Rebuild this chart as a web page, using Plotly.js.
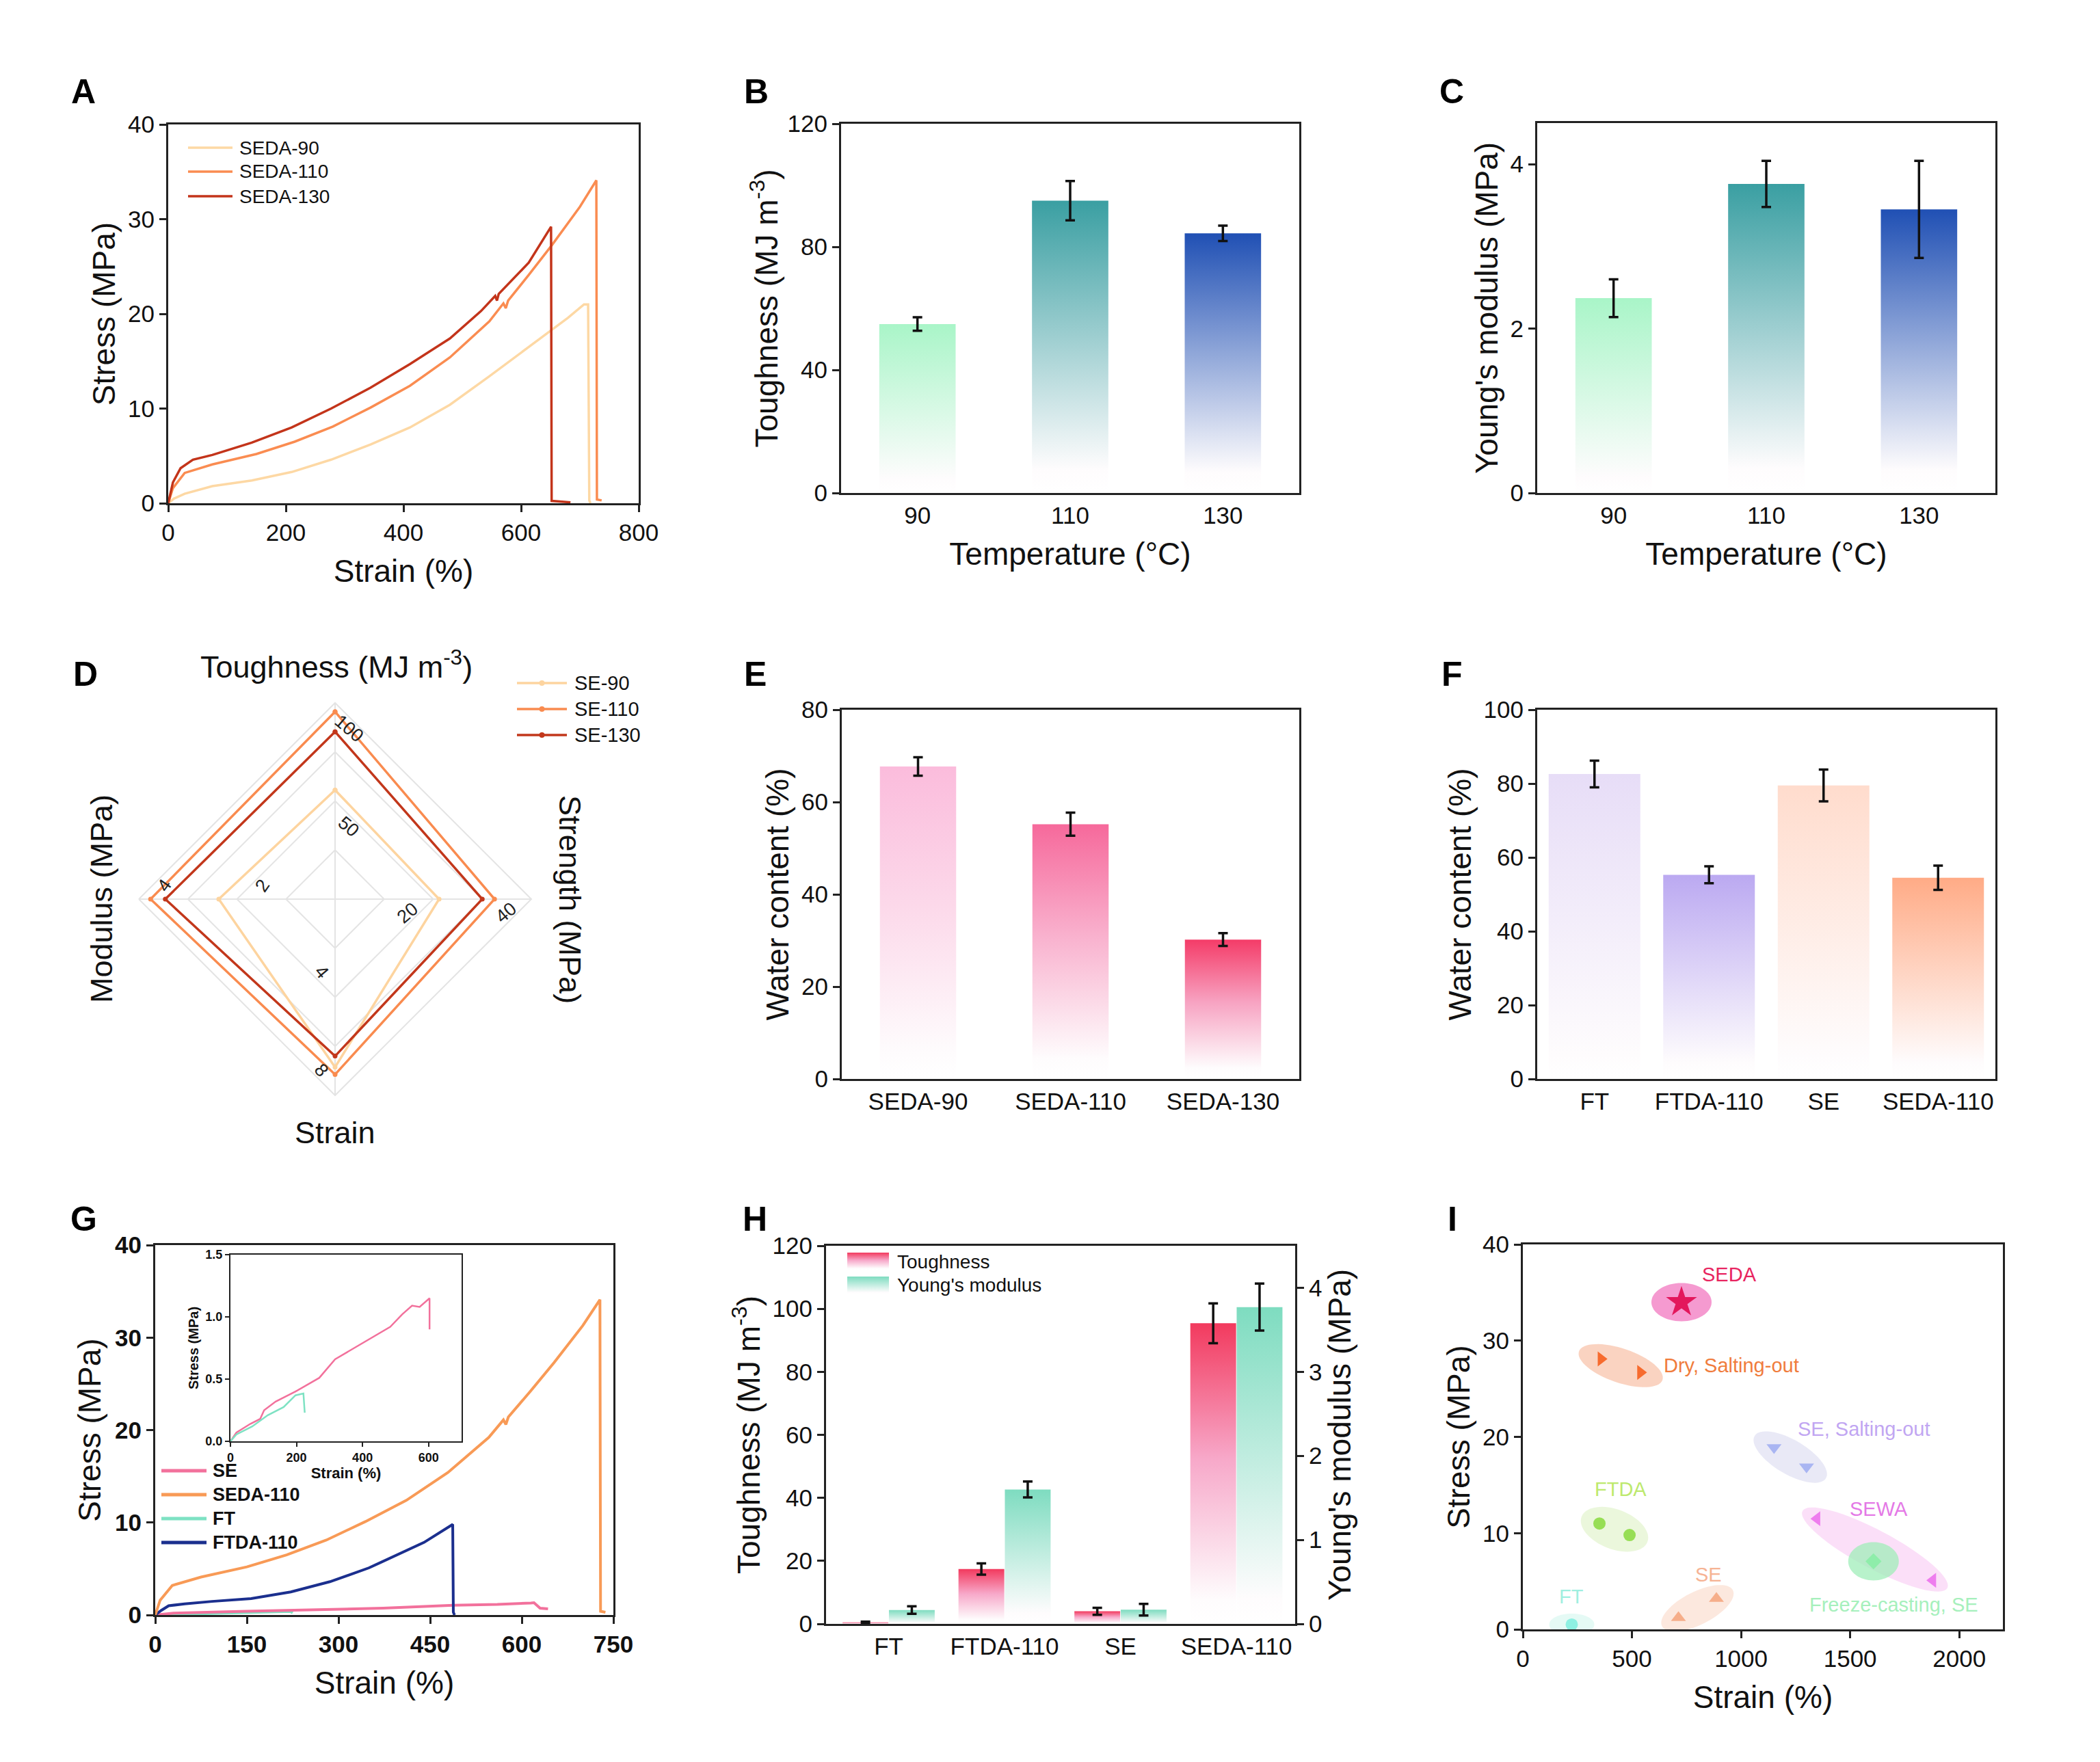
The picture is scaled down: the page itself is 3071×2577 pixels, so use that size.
<!DOCTYPE html>
<html>
<head>
<meta charset="utf-8">
<script src="https://cdn.plot.ly/plotly-3.0.1.min.js"></script>
<style>html,body{margin:0;padding:0;background:#fff}#fig{width:3071px;height:2577px}</style>
</head>
<body>
<div id="fig"></div>
<script>
const W = 3071, H = 2577;
const FONT = 'Liberation Sans, Arial, sans-serif';

/* ---------- data ---------- */
// A: stress-strain curves, SEDA at three temperatures
const seda90Strain = [0, 10, 28, 75, 142, 210, 277, 344, 411, 479, 546, 613, 680, 707, 714, 716, 718];
const seda90Stress = [0, 0.5, 1.0, 1.8, 2.4, 3.3, 4.6, 6.2, 8.0, 10.4, 13.4, 16.5, 19.6, 21.0, 21.0, 0.3, 0];
const seda110Strain = [0, 8, 28, 75, 150, 215, 280, 344, 411, 479, 546, 570, 574, 578, 613, 653, 700, 728, 729, 737];
const seda110Stress = [0, 1.6, 3.2, 4.1, 5.2, 6.5, 8.1, 10.1, 12.4, 15.4, 19.2, 21.1, 20.6, 21.4, 24.1, 27.3, 31.3, 34.1, 0.4, 0.3];
const seda130Strain = [0, 8, 21, 42, 75, 142, 210, 277, 344, 411, 479, 532, 556, 559, 562, 613, 651, 652, 684];
const seda130Stress = [0, 2.2, 3.7, 4.6, 5.1, 6.4, 8.0, 10.0, 12.2, 14.7, 17.4, 20.3, 21.9, 21.4, 22.1, 25.4, 29.2, 0.25, 0.1];

// B, C: toughness and modulus vs drying temperature
const temps = ['90', '110', '130'];
const toughByTemp = [54.9, 95.0, 84.4];
const toughByTempErr = [2.2, 6.4, 2.5];
const modByTemp = [2.37, 3.76, 3.45];
const modByTempErr = [0.23, 0.28, 0.59];

// D: radar (per-axis maxima set the outer ring)
const radarAxes = ['Toughness', 'Strength', 'Strain', 'Modulus'];
const radarMax = [100, 40, 8, 4];
const radarTicks = [[50, 100], [20, 40], [4, 8], [2, 4]];
const se90 = [55.6, 21.2, 6.85, 2.37];
const se110 = [95.5, 32.5, 7.15, 3.76];
const se130 = [85.3, 30.0, 6.4, 3.46];

// E: water content vs temperature
const sedaNames = ['SEDA-90', 'SEDA-110', 'SEDA-130'];
const waterSeda = [67.7, 55.2, 30.2];
const waterSedaErr = [2.0, 2.5, 1.4];

// F: water content of four gels
const gelNames = ['FT', 'FTDA-110', 'SE', 'SEDA-110'];
const waterGel = [82.6, 55.3, 79.5, 54.5];
const waterGelErr = [3.6, 2.3, 4.3, 3.3];

// G: stress-strain of four gels (SEDA-110 uses the curve of A)
const ftdaStrain = [0, 10, 22, 48, 93, 157, 222, 286, 350, 414, 440, 487, 488, 490];
const ftdaStress = [0, 0.5, 1.0, 1.2, 1.47, 1.77, 2.5, 3.6, 5.1, 7.1, 7.85, 9.8, 0.3, 0];
const seMainStrain = [0, 30, 150, 300, 373, 488, 560, 615, 620, 630, 643];
const seMainStress = [0, 0.2, 0.4, 0.62, 0.74, 1.06, 1.15, 1.3, 1.33, 0.74, 0.67];
// G inset: the two soft gels
const seStrain = [0, 18, 60, 90, 102, 137, 197, 269, 317, 388, 484, 520, 550, 573, 597, 603, 603];
const seStress = [0, 0.07, 0.14, 0.18, 0.25, 0.32, 0.40, 0.51, 0.66, 0.77, 0.92, 1.02, 1.09, 1.08, 1.14, 1.15, 0.90];
const ftStrain = [0, 18, 66, 113, 161, 197, 221, 225];
const ftStress = [0, 0.055, 0.12, 0.21, 0.275, 0.37, 0.385, 0.23];

// H: toughness and modulus of four gels
const hTough = [0.5, 17.4, 4.0, 95.4];
const hToughErr = [0.2, 1.8, 1.1, 6.3];
const hMod = [0.165, 1.60, 0.169, 3.77];
const hModErr = [0.045, 0.095, 0.07, 0.28];

// I: comparison with literature
const sedaPtStrain = [727], sedaPtStress = [34.0];
const dryStrain = [358, 539], dryStress = [28.1, 26.7];
const seSaltStrain = [1151, 1300], seSaltStress = [18.9, 16.9];
const ftdaPtStrain = [351, 489], ftdaPtStress = [11.0, 9.8];
const sewaStrain = [1348, 1879], sewaStress = [11.5, 5.1];
const freezeStrain = [1607], freezeStress = [7.07];
const sePtStrain = [713, 887], sePtStress = [1.2, 3.2];
const ftPtStrain = [224], ftPtStress = [0.5];

/* ---------- helpers ---------- */
const pxX = (a, b) => [a / W, b / W];
const pxY = (top, bottom) => [1 - bottom / H, 1 - top / H];
const mean = (a) => a.reduce((s, v) => s + v, 0) / a.length;

function axis(dom, range, o) {
  return Object.assign({
    domain: dom, range: range, showline: true, mirror: true, linecolor: '#222', linewidth: 3,
    ticks: 'outside', ticklen: 10, tickwidth: 3, tickcolor: '#222', showgrid: false, zeroline: false,
    tickfont: { family: FONT, size: 35, color: '#111' }, fixedrange: true,
  }, o);
}
function ttl(text, standoff, extra) {
  return Object.assign({ text: text, standoff: standoff, font: { family: FONT, size: 46, color: '#111' } }, extra);
}
function fade(top, mid) {
  return mid
    ? [[0, '#ffffff'], [0.08, '#fefcfd'], [0.55, mid], [1, top]]
    : [[0, '#ffffff'], [0.08, '#fefcfd'], [1, top]];
}
// a bar as a filled rectangle so it can carry a vertical gradient
function gradBar(xc, v, w, colors, xa, ya, y0) {
  const x0 = xc - w / 2, x1 = xc + w / 2, b = y0 || 0;
  return {
    type: 'scatter', x: [x0, x1, x1, x0, x0], y: [b, b, v, v, b], xaxis: xa, yaxis: ya,
    mode: 'none', fill: 'toself',
    fillgradient: { type: 'vertical', start: b, stop: v, colorscale: colors },
    hoverinfo: 'skip', showlegend: false,
  };
}
function errTrace(xs, ys, es, xa, ya) {
  return {
    type: 'scatter', x: xs, y: ys, xaxis: xa, yaxis: ya, mode: 'markers',
    marker: { size: 1, color: 'rgba(0,0,0,0)' },
    error_y: { type: 'data', array: es, visible: true, color: '#111', thickness: 3.5, width: 7 },
    hoverinfo: 'skip', showlegend: false,
  };
}
function curve(x, y, color, width, xa, ya) {
  return { type: 'scatter', mode: 'lines', x: x, y: y, xaxis: xa, yaxis: ya,
    line: { color: color, width: width }, hoverinfo: 'skip', showlegend: false };
}
// paper-positioned text, pixel coordinates from the top-left corner
function note(text, x, y, font, extra) {
  return Object.assign({ xref: 'paper', yref: 'paper', x: x / W, y: 1 - y / H, xanchor: 'center', yanchor: 'middle',
    text: text, showarrow: false, font: font }, extra);
}

const data = [];
const shapes = [];
const annotations = [];

/* ---------- A ---------- */
const colA = ['#fdd8a4', '#fa8c51', '#c3341a'];
data.push(curve(seda90Strain, seda90Stress, colA[0], 3.5, 'x', 'y'));
data.push(curve(seda110Strain, seda110Stress, colA[1], 3.5, 'x', 'y'));
data.push(curve(seda130Strain, seda130Stress, colA[2], 3.5, 'x', 'y'));

/* ---------- B, C ---------- */
const colTemp = ['#a9f5c8', '#3a9fa2', '#2050b4'];
temps.forEach((t, i) => {
  data.push(gradBar(i, toughByTemp[i], 0.5, fade(colTemp[i]), 'x2', 'y2'));
  data.push(gradBar(i, modByTemp[i], 0.5, fade(colTemp[i]), 'x3', 'y3'));
});
data.push(errTrace([0, 1, 2], toughByTemp, toughByTempErr, 'x2', 'y2'));
data.push(errTrace([0, 1, 2], modByTemp, modByTempErr, 'x3', 'y3'));

/* ---------- D radar ---------- */
const colD = ['#fdd49f', '#f98b4f', '#c2371b'];
[se90, se110, se130].forEach((vals, k) => {
  const r = vals.map((v, j) => v / radarMax[j]);
  data.push({
    type: 'scatterpolar', r: r.concat([r[0]]), theta: radarAxes.concat([radarAxes[0]]),
    mode: 'lines+markers', line: { color: colD[k], width: 3.5 }, marker: { size: 7, color: colD[k] },
    hoverinfo: 'skip', showlegend: false,
  });
});

/* ---------- E, F ---------- */
const colE = [['#fbbcdc', '#fcd9ea'], ['#f6699b', '#f9b3cf'], ['#f43c68', '#f7a3c2']];
sedaNames.forEach((n, i) => data.push(gradBar(i, waterSeda[i], 0.5, fade(colE[i][0], colE[i][1]), 'x4', 'y4')));
data.push(errTrace([0, 1, 2], waterSeda, waterSedaErr, 'x4', 'y4'));
const colF = ['#e7ddf7', '#bba9f1', '#ffdccd', '#ffab86'];
gelNames.forEach((n, i) => data.push(gradBar(i, waterGel[i], 0.8, fade(colF[i]), 'x5', 'y5')));
data.push(errTrace([0, 1, 2, 3], waterGel, waterGelErr, 'x5', 'y5'));

/* ---------- G ---------- */
const colG = { SE: '#f2719c', SEDA: '#f89a56', FT: '#7ee2c3', FTDA: '#1b2f8e' };
data.push(curve(ftStrain, ftStress, colG.FT, 4, 'x6', 'y6'));
data.push(curve(seMainStrain, seMainStress, colG.SE, 4, 'x6', 'y6'));
data.push(curve(ftdaStrain, ftdaStress, colG.FTDA, 4, 'x6', 'y6'));
data.push(curve(seda110Strain, seda110Stress, colG.SEDA, 4, 'x6', 'y6'));
data.push(curve(seStrain, seStress, colG.SE, 2.5, 'x7', 'y7'));
data.push(curve(ftStrain, ftStress, colG.FT, 2.5, 'x7', 'y7'));

/* ---------- H ---------- */
const colHT = fade('#f23a5e', '#f7a8c9');
const colHM = fade('#7edcc0');
gelNames.forEach((n, i) => data.push(gradBar(i - 0.2, hTough[i], 0.395, colHT, 'x8', 'y8')));
gelNames.forEach((n, i) => data.push(gradBar(i + 0.2, hMod[i], 0.395, colHM, 'x8', 'y9')));
data.push(errTrace(gelNames.map((n, i) => i - 0.2), hTough, hToughErr, 'x8', 'y8'));
data.push(errTrace(gelNames.map((n, i) => i + 0.2), hMod, hModErr, 'x8', 'y9'));
// legend swatches for H live on a small axis of their own (units: px)
data.push(gradBar(0.5, 60, 1, colHT, 'x11', 'y11', 35));
data.push(gradBar(0.5, 25, 1, colHM, 'x11', 'y11', 0));
const legFont = { family: FONT, size: 28, color: '#111' };
annotations.push(note('Toughness', 1310, 1845, legFont, { xanchor: 'left' }));
annotations.push(note("Young's modulus", 1310, 1880, legFont, { xanchor: 'left' }));

/* ---------- I ---------- */
const iGroups = [
  { name: 'SEDA', x: sedaPtStrain, y: sedaPtStress, symbol: 'star', size: 34, color: '#e3175c',
    halo: 'rgba(242,120,192,0.75)', rx: 44, ry: 28, label: '#e8245f', dx: 70, dy: 40 },
  { name: 'Dry, Salting-out', x: dryStrain, y: dryStress, symbol: 'triangle-right', size: 19, color: '#f76b2e',
    halo: 'rgba(249,200,178,0.8)', pad: 34, minor: 25, label: '#f07c3c', dx: 162, dy: 0 },
  { name: 'SE, Salting-out', x: seSaltStrain, y: seSaltStress, symbol: 'triangle-down', size: 19, color: '#a9b5f2',
    halo: 'rgba(228,228,244,0.8)', pad: 33, minor: 25, label: '#c1a6f2', dx: 107, dy: 41 },
  { name: 'FTDA', x: ftdaPtStrain, y: ftdaPtStress, symbol: 'circle', size: 18, color: '#97de55',
    halo: 'rgba(233,246,216,0.9)', pad: 28, minor: 29, label: '#bde96e', dx: 9, dy: 59 },
  { name: 'SEWA', x: sewaStrain, y: sewaStress, symbol: 'triangle-left', size: 19, color: '#ee7dee',
    halo: 'rgba(249,212,246,0.75)', pad: 24, minor: 28, label: '#e479e6', dx: 6, dy: 59 },
  { name: 'Freeze-casting, SE', x: freezeStrain, y: freezeStress, symbol: 'diamond', size: 18, color: '#8eedaa',
    halo: 'rgba(160,238,185,0.75)', rx: 37, ry: 28, label: '#a6f0bc', dx: 30, dy: -64 },
  { name: 'SE', x: sePtStrain, y: sePtStress, symbol: 'triangle-up', size: 19, color: '#f6ae8a',
    halo: 'rgba(252,230,218,0.9)', pad: 27, minor: 24, label: '#f6b394', dx: 16, dy: 49 },
  { name: 'FT', x: ftPtStrain, y: ftPtStress, symbol: 'circle', size: 18, color: '#8ef0e2',
    halo: 'rgba(226,250,244,0.9)', rx: 33, ry: 16, label: '#9fefe0', dx: 0, dy: 41 },
];
const iScale = { x: (2929 - 2227) / 2200, y: (2383 - 1820) / 40 };
function ellipsePath(g) {
  const cx = mean(g.x), cy = mean(g.y);
  let a = g.rx, b = g.ry, ang = 0;
  if (g.x.length > 1) {
    const dx = (g.x[1] - g.x[0]) * iScale.x, dy = (g.y[1] - g.y[0]) * iScale.y;
    ang = Math.atan2(dy, dx);
    a = Math.hypot(dx, dy) / 2 + g.pad;
    b = g.minor;
  }
  let p = '';
  for (let k = 0; k <= 64; k++) {
    const t = (k / 64) * 2 * Math.PI;
    const ex = a * Math.cos(t), ey = b * Math.sin(t);
    const X = cx + (ex * Math.cos(ang) - ey * Math.sin(ang)) / iScale.x;
    const Y = cy + (ex * Math.sin(ang) + ey * Math.cos(ang)) / iScale.y;
    p += (k ? 'L' : 'M') + X.toFixed(2) + ',' + Y.toFixed(3);
  }
  return p + 'Z';
}
iGroups.forEach((g) => {
  shapes.push({ type: 'path', xref: 'x10', yref: 'y10', path: ellipsePath(g), fillcolor: g.halo,
    line: { width: 0 }, layer: 'below' });
  data.push({ type: 'scatter', mode: 'markers', x: g.x, y: g.y, xaxis: 'x10', yaxis: 'y10', cliponaxis: false,
    marker: { symbol: g.symbol, size: g.size, color: g.color, line: { width: 0 } }, hoverinfo: 'skip', showlegend: false });
  annotations.push({ xref: 'x10', yref: 'y10', x: mean(g.x), y: mean(g.y), xshift: g.dx, yshift: g.dy,
    xanchor: 'center', yanchor: 'middle', text: g.name, showarrow: false, font: { family: FONT, size: 29, color: g.label } });
});

/* ---------- hand-drawn legends (A, D, G) ---------- */
function lineLegend(names, colors, st) {
  names.forEach((n, k) => {
    const y = 1 - st.rows[k] / H;
    shapes.push({ type: 'line', xref: 'paper', yref: 'paper', x0: st.x0 / W, x1: st.x1 / W, y0: y, y1: y,
      line: { color: colors[k], width: st.lw } });
    if (st.dot) {
      const xm = (st.x0 + st.x1) / 2;
      shapes.push({ type: 'circle', xref: 'paper', yref: 'paper', x0: (xm - 4) / W, x1: (xm + 4) / W,
        y0: y - 4 / H, y1: y + 4 / H, fillcolor: colors[k], line: { width: 0 } });
    }
    annotations.push(note(st.bold ? '<b>' + n + '</b>' : n, st.tx, st.rows[k],
      { family: FONT, size: st.size, color: '#111' }, { xanchor: 'left' }));
  });
}
lineLegend(['SEDA-90', 'SEDA-110', 'SEDA-130'], colA, { x0: 275, x1: 340, tx: 348, rows: [216, 251, 287], size: 28, lw: 3.5 });
lineLegend(['SE-90', 'SE-110', 'SE-130'], colD, { x0: 756, x1: 829, tx: 838, rows: [999, 1037, 1075], size: 29, lw: 3.5, dot: true });
lineLegend(['SE', 'SEDA-110', 'FT', 'FTDA-110'], [colG.SE, colG.SEDA, colG.FT, colG.FTDA],
  { x0: 236, x1: 302, tx: 309, rows: [2151, 2186, 2221, 2256], size: 27, lw: 5, bold: true });

/* ---------- radar labels ---------- */
const rc = { x: 490, y: 1315, R: 287 };
const rDir = [[0, -1], [1, 0], [0, 1], [-1, 0]];
const rAngle = [40, -40, 50, -55];
radarTicks.forEach((ticks, j) => {
  ticks.forEach((t) => {
    const f = t / radarMax[j] - 0.13;
    const [dx, dy] = rDir[j];
    const px = rc.x + dx * f * rc.R - dy * 20;
    const py = rc.y + dy * f * rc.R + dx * 20;
    annotations.push(note(String(t), px, py, { family: FONT, size: 27, color: '#222' }, { textangle: rAngle[j] }));
  });
});
const rTitleFont = { family: FONT, size: 45, color: '#111' };
annotations.push(note('Toughness (MJ m<sup>-3</sup>)', 492, 972, rTitleFont));
annotations.push(note('Strength (MPa)', 834, 1315, rTitleFont, { textangle: 90 }));
annotations.push(note('Strain', 490, 1656, rTitleFont));
annotations.push(note('Modulus (MPa)', 148, 1315, rTitleFont, { textangle: -90 }));

/* ---------- panel letters ---------- */
[['A', 122, 134], ['B', 1106, 134], ['C', 2123, 134], ['D', 125, 986], ['E', 1104, 986], ['F', 2123, 986],
 ['G', 122, 1783], ['H', 1104, 1783], ['I', 2124, 1783]].forEach(([t, x, y]) => {
  annotations.push(note('<b>' + t + '</b>', x, y, { family: FONT, size: 50, color: '#000' }));
});

/* ---------- layout ---------- */
const catX = (dom, labels, range, anchor) => axis(dom, range, {
  anchor: anchor, tickvals: labels.map((l, i) => i), ticktext: labels, ticks: '',
});
const bold = (size) => ({ family: FONT, size: size, color: '#111', weight: 'bold' });
const hidden = (dom, range, anchor) => ({ domain: dom, range: range, anchor: anchor, visible: false, fixedrange: true });

const layout = {
  width: W, height: H, margin: { l: 0, r: 0, t: 0, b: 0 },
  paper_bgcolor: '#fff', plot_bgcolor: 'rgba(0,0,0,0)', font: { family: FONT, color: '#111' },
  showlegend: false,
  // A
  xaxis: axis(pxX(246, 934), [0, 800], { anchor: 'y', dtick: 200, title: ttl('Strain (%)', 22) }),
  yaxis: axis(pxY(182, 736), [0, 40], { anchor: 'x', dtick: 10, title: ttl('Stress (MPa)', 4) }),
  // B
  xaxis2: Object.assign(catX(pxX(1230, 1900), temps, [-0.5, 2.5], 'y2'), { title: ttl('Temperature (°C)', 22) }),
  yaxis2: axis(pxY(181, 721), [0, 120], { anchor: 'x2', dtick: 40, title: ttl('Toughness (MJ m<sup>-3</sup>)', 0) }),
  // C
  xaxis3: Object.assign(catX(pxX(2248, 2918), temps, [-0.5, 2.5], 'y3'), { title: ttl('Temperature (°C)', 22) }),
  yaxis3: axis(pxY(180, 721), [0, 4.5], { anchor: 'x3', tickvals: [0, 2, 4], title: ttl("Young's modulus (MPa)", 4) }),
  // E
  xaxis4: catX(pxX(1231, 1900), sedaNames, [-0.5, 2.5], 'y4'),
  yaxis4: axis(pxY(1038, 1578), [0, 80], { anchor: 'x4', dtick: 20, title: ttl('Water content (%)', 4) }),
  // F
  xaxis5: catX(pxX(2248, 2918), gelNames, [-0.5, 3.5], 'y5'),
  yaxis5: axis(pxY(1038, 1578), [0, 100], { anchor: 'x5', dtick: 20, title: ttl('Water content (%)', 4) }),
  // G
  xaxis6: axis(pxX(227, 897), [0, 750], { anchor: 'y6', dtick: 150, tickfont: bold(35), title: ttl('Strain (%)', 22) }),
  yaxis6: axis(pxY(1821, 2362), [0, 40], { anchor: 'x6', dtick: 10, tickfont: bold(35), title: ttl('Stress (MPa)', 6) }),
  // G inset
  xaxis7: axis(pxX(337, 675), [0, 700], { anchor: 'y7', tickvals: [0, 200, 400, 600], linewidth: 2, tickwidth: 2, ticklen: 6,
    tickfont: bold(18), title: { text: '<b>Strain (%)</b>', standoff: 4, font: bold(22) } }),
  yaxis7: axis(pxY(1835, 2108), [0, 1.5], { anchor: 'x7', tickvals: [0, 0.5, 1, 1.5], tickformat: '.1f', linewidth: 2, tickwidth: 2, ticklen: 6,
    tickfont: bold(18), title: { text: '<b>Stress (MPa)</b>', standoff: 4, font: bold(20) } }),
  // H
  xaxis8: catX(pxX(1208, 1894), gelNames, [-0.54, 3.507], 'y8'),
  yaxis8: axis(pxY(1822, 2375), [0, 120], { anchor: 'x8', dtick: 20, title: ttl('Toughness (MJ m<sup>-3</sup>)', 4) }),
  yaxis9: axis(pxY(1822, 2375), [0, 4.5], { anchor: 'x8', overlaying: 'y8', side: 'right', mirror: false,
    tickvals: [0, 1, 2, 3, 4], title: ttl("Young's modulus (MPa)", 8) }),
  // I
  xaxis10: axis(pxX(2227, 2929), [0, 2200], { anchor: 'y10', dtick: 500, title: ttl('Strain (%)', 22) }),
  yaxis10: axis(pxY(1820, 2383), [0, 40], { anchor: 'x10', dtick: 10, title: ttl('Stress (MPa)', 4) }),
  // H legend swatch area
  xaxis11: hidden(pxX(1239, 1300), [0, 1], 'y11'),
  yaxis11: hidden(pxY(1832, 1892), [0, 60], 'x11'),
  // D
  polar: {
    domain: { x: pxX(203, 777), y: pxY(1028, 1602) }, gridshape: 'linear', bgcolor: 'rgba(0,0,0,0)',
    angularaxis: { rotation: 90, direction: 'clockwise', showticklabels: false, ticks: '', showline: true,
      linecolor: '#e4e4e4', linewidth: 2, showgrid: true, gridcolor: '#e4e4e4', gridwidth: 2 },
    radialaxis: { range: [0, 1], tickvals: [0.25, 0.5, 0.75], showticklabels: false, ticks: '', showline: false,
      gridcolor: '#e4e4e4', gridwidth: 2 },
  },
  shapes: shapes,
  annotations: annotations,
};

Plotly.newPlot('fig', data, layout, { staticPlot: true, displayModeBar: false });
</script>
</body>
</html>
